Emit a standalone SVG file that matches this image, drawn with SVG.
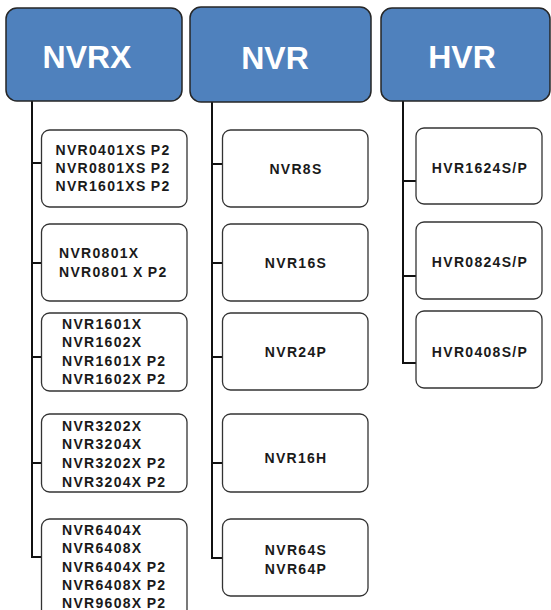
<svg xmlns="http://www.w3.org/2000/svg" width="551" height="610" viewBox="0 0 551 610">
<style>
.hdr{fill:#4F81BD;stroke:#262626;stroke-width:1.5}
.hdrt{font-family:"Liberation Sans",Arial,sans-serif;font-weight:bold;font-size:32px;fill:#ffffff;text-anchor:middle}
.box{fill:#ffffff;stroke:#333333;stroke-width:1.3}
.t{font-family:"Liberation Sans",Arial,sans-serif;font-weight:bold;font-size:14px;fill:#1a1a1a;letter-spacing:1.3px;word-spacing:-1px}
.c{text-anchor:middle}
.conn{fill:none;stroke:#111111;stroke-width:2}
</style>
<g id="connectors">
<path class="conn" d="M32,101 V557 H41 M32,163 H41 M32,263 H41 M32,357 H41 M32,463 H41"/>
<path class="conn" d="M212,102 V558 H222 M212,164 H222 M212,263 H222 M212,357 H222 M212,463 H222"/>
<path class="conn" d="M403,101 V363 H416 M403,181 H416 M403,276 H416"/>
</g>
<g id="nvrx"><rect class="hdr" x="6" y="8" width="176" height="93" rx="11"/><text class="hdrt" x="87" y="68">NVRX</text></g>
<g id="nvr"><rect class="hdr" x="190" y="7" width="181" height="95" rx="11"/><text class="hdrt" x="275" y="69">NVR</text></g>
<g id="hvr"><rect class="hdr" x="381" y="8" width="169" height="93" rx="11"/><text class="hdrt" x="462" y="68">HVR</text></g>

<g id="nvrx1"><rect class="box" x="41.5" y="130" width="145.5" height="77" rx="8"/>
<text class="t c" x="113" y="155">NVR0401XS P2</text><text class="t c" x="113" y="173">NVR0801XS P2</text><text class="t c" x="113" y="191">NVR1601XS P2</text></g>
<g id="nvrx2"><rect class="box" x="41.5" y="224" width="145.5" height="77" rx="8"/>
<text class="t" x="59" y="258">NVR0801X</text><text class="t" x="59" y="277">NVR0801 X P2</text></g>
<g id="nvrx3"><rect class="box" x="41.5" y="313" width="145.5" height="78" rx="8"/>
<text class="t" x="62" y="329">NVR1601X</text><text class="t" x="62" y="347">NVR1602X</text><text class="t" x="62" y="366">NVR1601X P2</text><text class="t" x="62" y="384">NVR1602X P2</text></g>
<g id="nvrx4"><rect class="box" x="41.5" y="414" width="145.5" height="78" rx="8"/>
<text class="t" x="62" y="431">NVR3202X</text><text class="t" x="62" y="449">NVR3204X</text><text class="t" x="62" y="468">NVR3202X P2</text><text class="t" x="62" y="487">NVR3204X P2</text></g>
<g id="nvrx5"><rect class="box" x="41.5" y="519" width="145.5" height="100" rx="8"/>
<text class="t" x="62" y="535">NVR6404X</text><text class="t" x="62" y="553">NVR6408X</text><text class="t" x="62" y="572">NVR6404X P2</text><text class="t" x="62" y="590">NVR6408X P2</text><text class="t" x="62" y="608">NVR9608X P2</text></g>

<g id="nvr1"><rect class="box" x="222.5" y="130" width="145.5" height="77" rx="8"/><text class="t c" x="296" y="174">NVR8S</text></g>
<g id="nvr2"><rect class="box" x="222.5" y="224" width="145.5" height="77" rx="8"/><text class="t c" x="296" y="268">NVR16S</text></g>
<g id="nvr3"><rect class="box" x="222.5" y="313" width="145.5" height="77" rx="8"/><text class="t c" x="296" y="357">NVR24P</text></g>
<g id="nvr4"><rect class="box" x="222.5" y="414" width="145.5" height="78" rx="8"/><text class="t c" x="296" y="463">NVR16H</text></g>
<g id="nvr5"><rect class="box" x="222.5" y="519" width="145.5" height="77" rx="8"/><text class="t c" x="296" y="555">NVR64S</text><text class="t c" x="296" y="574">NVR64P</text></g>

<g id="hvr1"><rect class="box" x="416" y="128" width="126" height="76" rx="8"/><text class="t c" x="480" y="173">HVR1624S/P</text></g>
<g id="hvr2"><rect class="box" x="416" y="222" width="126" height="77" rx="8"/><text class="t c" x="480" y="267">HVR0824S/P</text></g>
<g id="hvr3"><rect class="box" x="416" y="311" width="126" height="77" rx="8"/><text class="t c" x="480" y="357">HVR0408S/P</text></g>
</svg>
